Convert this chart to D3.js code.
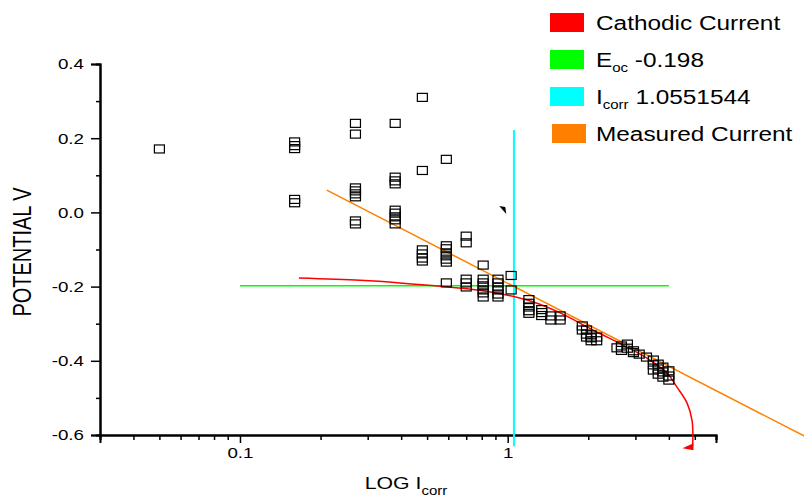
<!DOCTYPE html>
<html>
<head>
<meta charset="utf-8">
<script src="https://cdn.jsdelivr.net/npm/d3@7"></script>
<style>
  body { margin: 0; background: #fff; }
  svg { display: block; font-family: "Liberation Sans", Arial, sans-serif; }
</style>
</head>
<body>
<div class="chart"></div>
<script>
// measured points, grouped by current column (A) -> potentials (V)
const measuredCurrent = [0.05, 0.16, 0.27, 0.38, 0.48, 0.59, 0.7, 0.81, 0.92, 1.03,
  1.2, 1.34, 1.45, 1.57, 1.9, 1.97, 2.05, 2.15, 2.56, 2.66, 2.8, 2.95, 3.1, 3.3,
  3.5, 3.65, 3.8, 4.0];
const measuredPotential = [
  [0.171],
  [0.19, 0.18, 0.172, 0.035, 0.026],
  [0.24, 0.211, 0.066, 0.058, 0.05, 0.042, -0.023, -0.031],
  [0.24, 0.095, 0.085, 0.077, 0.006, -0.002, -0.012, -0.02, -0.031],
  [0.31, 0.113, -0.101, -0.112, -0.123, -0.131],
  [0.143, -0.09, -0.098, -0.109, -0.117, -0.126, -0.134, -0.19],
  [-0.064, -0.082, -0.18, -0.19, -0.201],
  [-0.142, -0.18, -0.19, -0.198, -0.209, -0.217, -0.228],
  [-0.18, -0.19, -0.201, -0.209, -0.22, -0.228],
  [-0.17, -0.209],
  [-0.235, -0.245, -0.255, -0.265, -0.272],
  [-0.262, -0.27, -0.278],
  [-0.279, -0.29],
  [-0.279, -0.29],
  [-0.306, -0.317],
  [-0.317, -0.328, -0.336],
  [-0.33, -0.338, -0.346],
  [-0.336, -0.346],
  [-0.365],
  [-0.36, -0.372],
  [-0.355, -0.366],
  [-0.373, -0.378],
  [-0.382],
  [-0.39],
  [-0.398, -0.411, -0.425],
  [-0.409, -0.422, -0.436],
  [-0.417, -0.43, -0.444],
  [-0.427, -0.441, -0.452]
];

// cathodic fit curve
const cathodicI = [0.166, 0.281, 0.396, 0.705, 0.936, 1.24, 1.57, 2.08, 2.79, 3.4, 3.94, 4.29, 4.68, 4.88, 4.92, 4.9];
const cathodicE = [-0.177, -0.183, -0.19, -0.206, -0.219, -0.241, -0.271, -0.317, -0.363, -0.398, -0.433, -0.471, -0.514, -0.56, -0.605, -0.63];

// tafel (measured current) line
const tafelI = [0.211, 13];
const tafelE = [0.06, -0.605];

const eoc = -0.198;
const eocRange = [0.1, 4.0];
const icorr = 1.0551544;
const icorrRange = [0.222, -0.63];

// small leftover arrow marker
const pointerAt = [0.93, 0.017];

const yMajor = [0.4, 0.2, 0.0, -0.2, -0.4, -0.6];
const yMinor = [0.3, 0.1, -0.1, -0.3, -0.5];
const xMajor = [0.1, 1];
const xMinor = [0.03, 0.04, 0.05, 0.06, 0.07, 0.08, 0.09, 0.2, 0.3, 0.4, 0.5, 0.6, 0.7, 0.8, 0.9, 2, 3, 4, 5, 6];

const legendItems = [
  { text: 'Cathodic Current', sub: '', rest: '', color: '#ff0000' },
  { text: 'E', sub: 'oc', rest: ' -0.198', color: '#00ff00' },
  { text: 'I', sub: 'corr', rest: ' 1.0551544', color: '#00ffff' },
  { text: 'Measured Current', sub: '', rest: '', color: '#ff8000' }
];

const width = 804;
const height = 500;
const sx = 1.25; // the source picture is stretched horizontally

const svg = d3.select('.chart').append('svg')
  .attr('width', width)
  .attr('height', height);

const x = d3.scaleLog().domain([0.03, 6]).range([100, 716]);
const y = d3.scaleLinear().domain([-0.6, 0.4]).range([435, 64]);

function stretch(sel) {
  sel.each(function () {
    const t = d3.select(this);
    const tx = +t.attr('x') || 0;
    const ty = +t.attr('y') || 0;
    t.attr('x', 0).attr('y', 0)
      .attr('transform', `translate(${tx},${ty}) scale(${sx},1)`);
  });
}

// axes
const xAxis = svg.append('g').attr('transform', `translate(0,${y(-0.6)})`);
xAxis.call(d3.axisBottom(x).tickValues(xMinor).tickSize(5).tickFormat(''));
xAxis.append('g').call(d3.axisBottom(x).tickValues(xMajor).tickSize(8).tickPadding(4)
  .tickFormat(d => d === 1 ? '1' : '0.1'));

const yAxis = svg.append('g').attr('transform', `translate(${x(0.03)},0)`);
yAxis.call(d3.axisLeft(y).tickValues(yMinor).tickSize(4).tickFormat(''));
yAxis.append('g').call(d3.axisLeft(y).tickValues(yMajor).tickSize(9).tickPadding(7)
  .tickFormat(d => d.toFixed(1)));

svg.selectAll('.domain').attr('stroke', '#000').attr('stroke-width', 2);
svg.selectAll('.tick line').attr('stroke', '#000').attr('stroke-width', 1.5);
svg.selectAll('.tick text')
  .attr('fill', '#000')
  .attr('font-size', 15)
  .attr('font-family', '"Liberation Sans", Arial, sans-serif')
  .call(stretch);

// reference lines
svg.append('line')
  .attr('x1', x(eocRange[0])).attr('x2', x(eocRange[1]))
  .attr('y1', y(eoc)).attr('y2', y(eoc))
  .attr('stroke', '#00ff00').attr('stroke-width', 1.5);

svg.append('line')
  .attr('x1', x(icorr)).attr('x2', x(icorr))
  .attr('y1', y(icorrRange[0])).attr('y2', y(icorrRange[1]))
  .attr('stroke', '#00ffff').attr('stroke-width', 2);

svg.append('line')
  .attr('x1', x(tafelI[0])).attr('x2', x(tafelI[1]))
  .attr('y1', y(tafelE[0])).attr('y2', y(tafelE[1]))
  .attr('stroke', '#ff8000').attr('stroke-width', 1.5);

const cathodic = cathodicI.map((d, i) => [d, cathodicE[i]]);
const line = d3.line()
  .x(d => x(d[0]))
  .y(d => y(d[1]))
  .curve(d3.curveCatmullRom);

svg.append('path')
  .datum(cathodic)
  .attr('d', line)
  .attr('fill', 'none')
  .attr('stroke', '#ff0000')
  .attr('stroke-width', 1.5);

// arrow head at the end of the cathodic curve, pointing left
const end = cathodic[cathodic.length - 1];
const ex = x(end[0]);
const ey = y(end[1]);
svg.append('path')
  .attr('d', `M${ex - 10},${ey + 2}L${ex + 1},${ey - 3}L${ex + 1},${ey + 4}Z`)
  .attr('fill', '#ff0000');

// measured squares
const points = measuredCurrent.flatMap((c, i) => measuredPotential[i].map(e => [c, e]));
svg.append('g')
  .selectAll('rect')
  .data(points)
  .join('rect')
  .attr('x', d => x(d[0]) - 5)
  .attr('y', d => y(d[1]) - 4)
  .attr('width', 10)
  .attr('height', 8)
  .attr('fill', 'none')
  .attr('stroke', '#000')
  .attr('stroke-width', 1.2);

// small black pointer
svg.append('path')
  .attr('transform', `translate(${x(pointerAt[0])},${y(pointerAt[1])})`)
  .attr('d', 'M0,0L6,1L7,8Z')
  .attr('fill', '#000');

// axis titles
const xt = svg.append('text')
  .attr('x', 0).attr('y', 0)
  .attr('transform', `translate(406,489) scale(${sx},1)`)
  .attr('text-anchor', 'middle')
  .attr('font-size', 17)
  .attr('fill', '#000');
xt.append('tspan').text('LOG I');
xt.append('tspan').attr('font-size', 12).attr('dy', 6).text('corr');

svg.append('text')
  .attr('transform', `translate(31,252) scale(${sx},1) rotate(-90)`)
  .attr('text-anchor', 'middle')
  .attr('font-size', 20)
  .attr('fill', '#000')
  .text('POTENTIAL V');

// legend
const legend = svg.append('g');
legendItems.forEach((d, i) => {
  const top = 13 + i * 37;
  legend.append('rect')
    .attr('x', i === 3 ? 552 : 550)
    .attr('y', top)
    .attr('width', 34)
    .attr('height', 19)
    .attr('fill', d.color);
  const t = legend.append('text')
    .attr('transform', `translate(596,${top + 17}) scale(${sx},1)`)
    .attr('font-size', 19.5)
    .attr('fill', '#000');
  t.append('tspan').text(d.text);
  if (d.sub) {
    t.append('tspan').attr('font-size', 12).attr('dy', 5).text(d.sub);
    t.append('tspan').attr('dy', -5).text(d.rest);
  }
});
</script>
</body>
</html>
